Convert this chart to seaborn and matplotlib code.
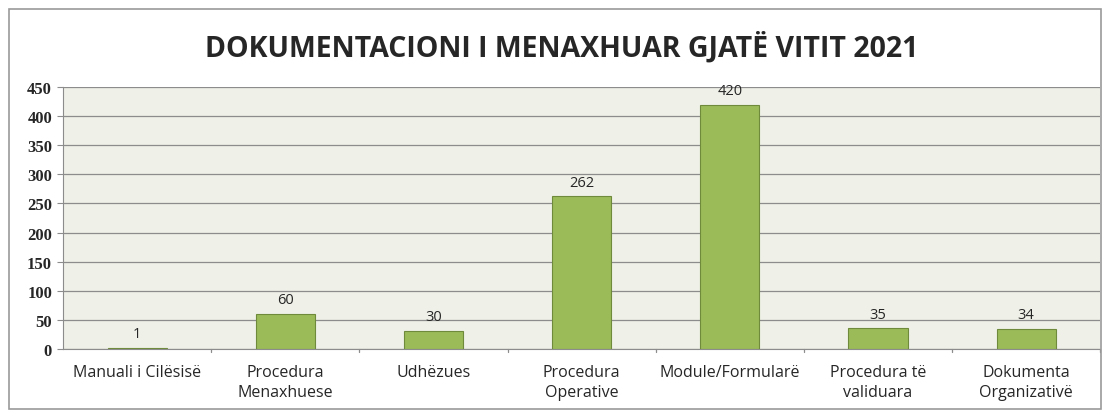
import seaborn as sns
import pandas as pd
import matplotlib.pyplot as plt
from matplotlib.patches import Rectangle

# categories and counts
categories = ["Manuali i Cilësisë", "Procedura\nMenaxhuese", "Udhëzues",
              "Procedura\nOperative", "Module/Formularë", "Procedura të\nvaliduara",
              "Dokumenta\nOrganizativë"]
counts = [1, 60, 30, 262, 420, 35, 34]
y_ticks = [0, 50, 100, 150, 200, 250, 300, 350, 400, 450]

df = pd.DataFrame({"kategoria": categories, "numri": counts})

sns.set_style("white")
plt.rcParams["font.family"] = ["Open Sans", "DejaVu Sans"]

fig = plt.figure(figsize=(11.08, 4.14), dpi=100)
ax = fig.add_axes([0.057, 0.155, 0.936, 0.632])

# grey frame round the whole chart
fig.patches.append(Rectangle((0.008, 0.01), 0.986, 0.965, transform=fig.transFigure,
                             fill=False, edgecolor="#9a9a9a", linewidth=1.2))

ax.set_facecolor("#eff1e8")
sns.barplot(ax=ax, data=df, x="kategoria", y="numri", color="#9bbb59",
            saturation=1, width=0.4, edgecolor="#6f8a3a", linewidth=0.8)

ax.set_ylim(0, 450)
ax.set_yticks(y_ticks)
ax.set_yticklabels([str(t) for t in y_ticks], family="Liberation Serif",
                   fontweight="bold", fontsize=12)
ax.yaxis.grid(True, color="#8c8c8c", linewidth=0.9)
ax.set_axisbelow(True)
ax.tick_params(axis="y", length=4, color="#8c8c8c", pad=4, left=True)
ax.tick_params(axis="x", length=0, pad=11)
ax.set_xticks(range(len(categories)))
ax.set_xticklabels(categories, fontsize=11.5, linespacing=1.35)
ax.set_xlabel("")
ax.set_ylabel("")

for side in ["top", "right"]:
    ax.spines[side].set_visible(False)
ax.spines["left"].set_color("#8c8c8c")
ax.spines["bottom"].set_color("#8c8c8c")

# small separator ticks between categories
for i in range(len(categories)):
    ax.plot([i + 0.5, i + 0.5], [0, -6], color="#8c8c8c", linewidth=0.9, clip_on=False)
ax.set_xlim(-0.5, len(categories) - 0.5)

# value labels above each bar
for i, v in enumerate(counts):
    ax.text(i, v + 12, str(v), ha="center", va="bottom", fontsize=10.5)

fig.text(0.507, 0.885, "DOKUMENTACIONI I MENAXHUAR GJATË VITIT 2021", ha="center",
         va="center", fontsize=20.5, fontweight="bold")

plt.savefig("out.png", dpi=100)
